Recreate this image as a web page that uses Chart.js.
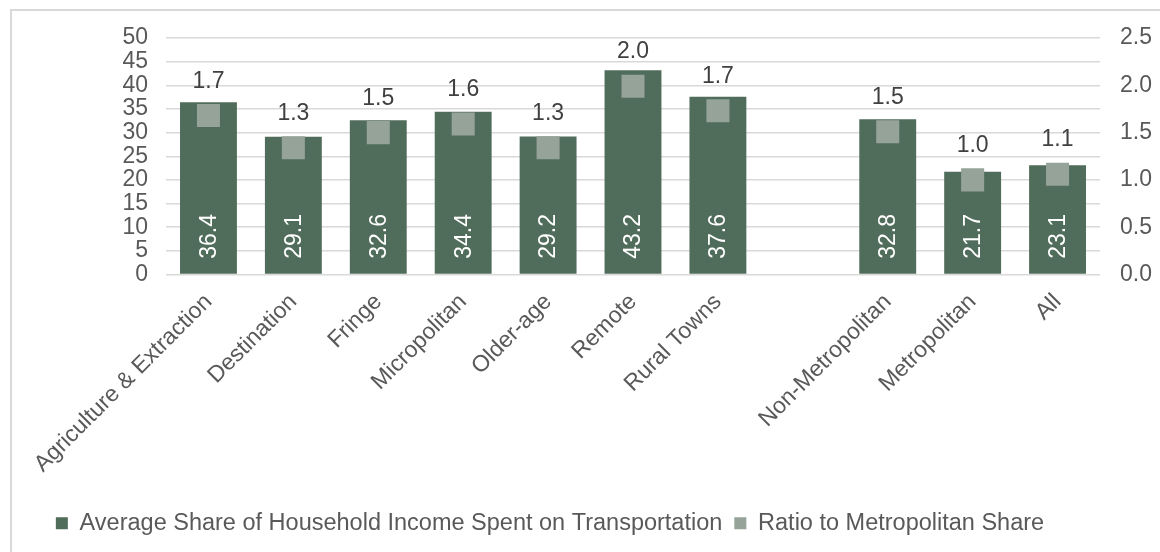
<!DOCTYPE html>
<html>
<head>
<meta charset="utf-8">
<script src="https://cdn.jsdelivr.net/npm/chart.js@4/dist/chart.umd.min.js"></script>
<style>
    html, body { margin: 0; padding: 0; background: #fff; }
    #wrap { position: relative; width: 1160px; height: 552px; overflow: hidden; }
    #frame {
        position: absolute; left: 10px; top: 9px; width: 1200px; height: 600px;
        border-left: 2px solid #d9d9d9; border-top: 2px solid #d9d9d9;
        box-sizing: border-box;
    }
    canvas { position: absolute; left: 0; top: 0; }
</style>
</head>
<body>
<div id="wrap">
    <div id="frame"></div>
    <canvas id="chart" width="1160" height="552"></canvas>
</div>
<script>
// ==================== DATOS ====================
const categories = [
    'Agriculture & Extraction', 'Destination', 'Fringe', 'Micropolitan', 'Older-age',
    'Remote', 'Rural Towns', '', 'Non-Metropolitan', 'Metropolitan', 'All'
];
const shareValues = [36.4, 29.1, 32.6, 34.4, 29.2, 43.2, 37.6, null, 32.8, 21.7, 23.1];
const ratioValues = [1.68, 1.34, 1.50, 1.59, 1.34, 1.99, 1.73, null, 1.51, 1.00, 1.06];

const BAR_COLOR = '#506c5a';
const POINT_COLOR = '#95a398';
const FONT = 'Liberation Sans, Arial, sans-serif';
const FS = 23;

// ==================== ETIQUETAS ====================
const labelPlugin = {
    id: 'valueLabels',
    afterLayout(chart) {
        // la leyenda queda centrada sobre el área sin el eje derecho
        if (chart.legend) chart.legend.right -= 60;
    },
    afterDatasetsDraw(chart) {
        const ctx = chart.ctx;

        // valores dentro de las barras (verticales, blancos)
        const barMeta = chart.getDatasetMeta(0);
        barMeta.data.forEach((bar, i) => {
            const v = shareValues[i];
            if (v === null) return;
            ctx.save();
            ctx.translate(bar.x, bar.base - 15);
            ctx.rotate(-Math.PI / 2);
            ctx.font = FS + 'px ' + FONT;
            ctx.fillStyle = '#ffffff';
            ctx.textAlign = 'left';
            ctx.textBaseline = 'middle';
            ctx.fillText(v.toFixed(1), 0, 1);
            ctx.restore();
        });

        // valores sobre los puntos
        const ptMeta = chart.getDatasetMeta(1);
        ptMeta.data.forEach((pt, i) => {
            const v = ratioValues[i];
            if (v === null) return;
            ctx.save();
            ctx.font = FS + 'px ' + FONT;
            ctx.fillStyle = '#404040';
            ctx.textAlign = 'center';
            ctx.textBaseline = 'alphabetic';
            ctx.fillText(v.toFixed(1), pt.x, pt.y - 28);
            ctx.restore();
        });
    }
};

// ==================== CHART ====================
const ctx = document.getElementById('chart').getContext('2d');

const chart = new Chart(ctx, {
    type: 'bar',
    data: {
        labels: categories,
        datasets: [{
            type: 'bar',
            label: 'Average Share of Household Income Spent on Transportation',
            data: shareValues,
            backgroundColor: BAR_COLOR,
            borderWidth: 0,
            barPercentage: 0.67,
            categoryPercentage: 1.0,
            yAxisID: 'y',
            order: 2
        }, {
            type: 'line',
            label: 'Ratio to Metropolitan Share',
            data: ratioValues,
            showLine: false,
            pointStyle: 'rect',
            pointRadius: 16.3,
            pointHoverRadius: 16.3,
            pointBorderWidth: 0,
            backgroundColor: POINT_COLOR,
            borderColor: POINT_COLOR,
            borderWidth: 0,
            yAxisID: 'y2',
            order: 1
        }]
    },
    options: {
        animation: false,
        responsive: false,
        layout: { padding: { top: 38, bottom: 7, left: 0, right: 0 } },
        plugins: {
            legend: {
                position: 'bottom',
                labels: {
                    color: '#595959',
                    font: { family: FONT, size: 23.5 },
                    boxWidth: 12,
                    boxHeight: 12,
                    padding: 12,
                    sort: (a, b) => a.datasetIndex - b.datasetIndex
                }
            },
            tooltip: { enabled: false }
        },
        scales: {
            x: {
                grid: { display: false },
                border: { display: false },
                ticks: {
                    color: '#595959',
                    font: { family: FONT, size: FS },
                    maxRotation: 45,
                    minRotation: 45,
                    padding: 6,
                    autoSkip: false
                },
                afterFit(scale) { scale.height = 225; }
            },
            y: {
                position: 'left',
                min: 0,
                max: 50,
                grid: { color: '#d9d9d9', lineWidth: 1.5, drawTicks: false },
                border: { display: false },
                ticks: {
                    stepSize: 5,
                    autoSkip: false,
                    color: '#595959',
                    font: { family: FONT, size: FS },
                    padding: 18
                },
                afterFit(scale) { scale.width = 166; }
            },
            y2: {
                position: 'right',
                min: 0,
                max: 2.5,
                grid: { display: false, drawTicks: false },
                border: { display: false },
                ticks: {
                    stepSize: 0.5,
                    autoSkip: false,
                    color: '#595959',
                    font: { family: FONT, size: FS },
                    padding: 20,
                    callback: (v) => Number(v).toFixed(1)
                },
                afterFit(scale) { scale.width = 60; }
            }
        }
    },
    plugins: [labelPlugin]
});
</script>
</body>
</html>
